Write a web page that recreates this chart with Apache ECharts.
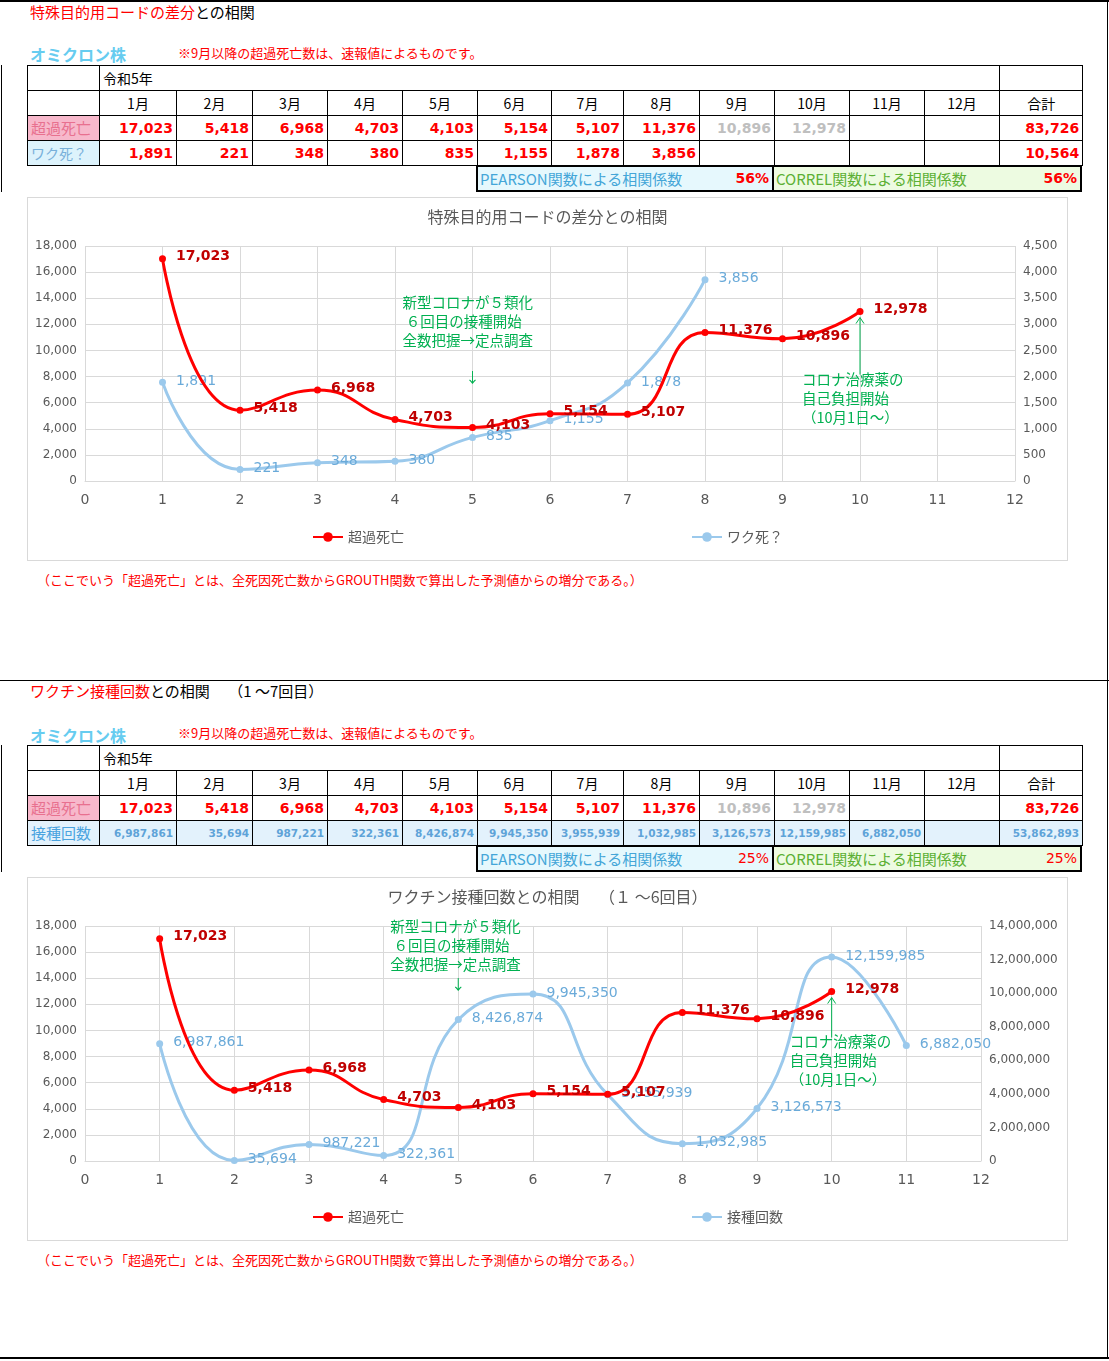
<!DOCTYPE html>
<html lang="ja">
<head>
<meta charset="utf-8">
<title>超過死亡との相関</title>
<script src="https://cdn.jsdelivr.net/npm/echarts@6.0.0/dist/echarts.min.js"></script>
<style>
  body { margin:0; width:1109px; height:1361px; position:relative; overflow:hidden; background:#fff;
         font-family:"Noto Sans CJK JP", sans-serif; color:#000; }
  .ln { position:absolute; background:#000; }
  .txt { position:absolute; white-space:nowrap; }
  .sec { font-size:15px; line-height:20px; }
  .red { color:#ff0000; }
  .omi { font-size:16px; line-height:20px; font-weight:bold; color:#66ccf0; }
  .note { font-size:13px; line-height:18px; color:#ff0000; }
  .foot { font-size:13px; line-height:16px; color:#ff0000; }
  table.t { position:absolute; left:27px; width:1055px; border-collapse:collapse; table-layout:fixed; font-size:14px; }
  table.t td { border:1px solid #000; height:24px; padding:0 3px; white-space:nowrap; overflow:hidden; line-height:24px; }
  td.c { text-align:center; }
  td.n { text-align:right; font-family:"DejaVu Sans",sans-serif; font-weight:bold; font-size:14px; color:#ff0000; padding-right:2px; }
  td.n.gray { color:#bfbfbf; }
  td.lab1 { background:#f7b8cb; color:#e8708f; font-size:15px; padding-left:2px; }
  td.lab2 { background:#ddf3fc; color:#78b0da; font-size:14px; padding-left:2px; }
  td.lab3 { background:#ddf0fb; color:#4aa3df; font-size:15px; padding-left:2px; }
  tr.dose td { background:#e3f2fc; }
  td.d { text-align:right; font-family:"DejaVu Sans",sans-serif; font-weight:bold; font-size:10.5px; color:#5ea3d8; padding-right:2px; }
  .box { position:absolute; height:27px; box-sizing:border-box; border:2px solid #000; font-size:15px; line-height:23px; }
  .box .l { position:absolute; left:2px; }
  .box .r { position:absolute; right:3px; color:#ff0000; font-family:"DejaVu Sans",sans-serif; font-size:14px; }
  .pear { background:#e6f8fd; }
  .pear .l { color:#44a6d8; }
  .corr { background:#edfbe1; }
  .corr .l { color:#5cb034; }
  .chart { position:absolute; left:27px; width:1041px; height:364px; box-sizing:border-box; border:1px solid #d9d9d9; }
</style>
</head>
<body>
<!-- 枠線 -->
<div class="ln" style="left:0;top:0;width:1109px;height:2px"></div>
<div class="ln" style="left:1107px;top:0;width:1px;height:1358px"></div>
<div class="ln" style="left:0;top:680px;width:1109px;height:1px"></div>
<div class="ln" style="left:0;top:1357px;width:1109px;height:2px"></div>
<div class="ln" style="left:1px;top:65px;width:1px;height:127px"></div>
<div class="ln" style="left:1px;top:745px;width:1px;height:127px"></div>

<!-- 上段 -->
<div class="txt sec" style="left:30px;top:2px"><span class="red">特殊目的用コードの差分</span>との相関</div>
<div class="txt omi" style="left:30px;top:44px">オミクロン株</div>
<div class="txt note" style="left:178px;top:44px">※9月以降の超過死亡数は、速報値によるものです。</div>
<div id="tbl1"></div>
<div class="box pear" style="left:476px;top:165px;width:298px"><span class="l">PEARSON関数による相関係数</span><span class="r" id="p1"></span></div>
<div class="box corr" style="left:772px;top:165px;width:310px"><span class="l">CORREL関数による相関係数</span><span class="r" id="r1"></span></div>
<div class="chart" id="c1" style="top:197px"></div>
<div class="txt foot" style="left:37px;top:572px">（ここでいう「超過死亡」とは、全死因死亡数からGROUTH関数で算出した予測値からの増分である。）</div>

<!-- 下段 -->
<div class="txt sec" style="left:30px;top:681px"><span class="red">ワクチン接種回数</span>との相関　 （1 ～7回目）</div>
<div class="txt omi" style="left:30px;top:725px">オミクロン株</div>
<div class="txt note" style="left:178px;top:724px">※9月以降の超過死亡数は、速報値によるものです。</div>
<div id="tbl2"></div>
<div class="box pear" style="left:476px;top:845px;width:298px"><span class="l">PEARSON関数による相関係数</span><span class="r" id="p2"></span></div>
<div class="box corr" style="left:772px;top:845px;width:310px"><span class="l">CORREL関数による相関係数</span><span class="r" id="r2"></span></div>
<div class="chart" id="c2" style="top:877px"></div>
<div class="txt foot" style="left:37px;top:1252px">（ここでいう「超過死亡」とは、全死因死亡数からGROUTH関数で算出した予測値からの増分である。）</div>

<script>
// データ
var monthLabels = ['1月','2月','3月','4月','5月','6月','7月','8月','9月','10月','11月','12月'];
var monthNums = [1,2,3,4,5,6,7,8,9,10,11,12];
var excessDeaths = [17023,5418,6968,4703,4103,5154,5107,11376,10896,12978];
var provisionalFrom = 8; // 9月以降は速報値
var vaxDeaths = [1891,221,348,380,835,1155,1878,3856];
var vaxDoses = [6987861,35694,987221,322361,8426874,9945350,3955939,1032985,3126573,12159985,6882050];
var corr1 = '56%';
var corr2 = '25%';
var colWidths = [72,77,76,75,75,75,74,72,76,75,75,75,75,83];

var fmt = function (v) { return v.toLocaleString('en-US'); };
function sum(a) { return a.reduce(function (s, v) { return s + v; }, 0); }

// 表
function buildTable(top, secondRow) {
  var h = '<table class="t" style="top:' + top + 'px"><colgroup>';
  colWidths.forEach(function (w) { h += '<col style="width:' + w + 'px">'; });
  h += '</colgroup>';
  h += '<tr><td></td><td colspan="12">令和5年</td><td></td></tr>';
  h += '<tr><td></td>';
  monthLabels.forEach(function (m) { h += '<td class="c">' + m + '</td>'; });
  h += '<td class="c">合計</td></tr>';
  h += '<tr><td class="lab1">超過死亡</td>';
  for (var i = 0; i < 12; i++) {
    var v = excessDeaths[i];
    h += '<td class="n' + (i >= provisionalFrom ? ' gray' : '') + '">' + (v == null ? '' : fmt(v)) + '</td>';
  }
  h += '<td class="n">' + fmt(sum(excessDeaths)) + '</td></tr>';
  h += secondRow + '</table>';
  return h;
}

var row2a = '<tr><td class="lab2">ワク死？</td>';
for (var i = 0; i < 12; i++) row2a += '<td class="n">' + (vaxDeaths[i] == null ? '' : fmt(vaxDeaths[i])) + '</td>';
row2a += '<td class="n">' + fmt(sum(vaxDeaths)) + '</td></tr>';

var row2b = '<tr class="dose"><td class="lab3">接種回数</td>';
for (var i = 0; i < 12; i++) row2b += '<td class="d">' + (vaxDoses[i] == null ? '' : fmt(vaxDoses[i])) + '</td>';
row2b += '<td class="d">' + fmt(sum(vaxDoses)) + '</td></tr>';

document.getElementById('tbl1').innerHTML = buildTable(65, row2a);
document.getElementById('tbl2').innerHTML = buildTable(745, row2b);
document.getElementById('p1').textContent = corr1;
document.getElementById('r1').textContent = corr1;
document.getElementById('p2').textContent = corr2;
document.getElementById('r2').textContent = corr2;
document.getElementById('p2').style.fontWeight = 'normal';
document.getElementById('r2').style.fontWeight = 'normal';
document.getElementById('p1').style.fontWeight = 'bold';
document.getElementById('r1').style.fontWeight = 'bold';

// グラフ
var JP = '"Noto Sans CJK JP", sans-serif';
var NUM = '"DejaVu Sans", sans-serif';
var GREEN = '#00b050';

function pairs(vals) {
  return vals.map(function (v, i) { return [monthNums[i], v]; });
}

function makeChart(id, cfg) {
  var chart = echarts.init(document.getElementById(id));
  chart.setOption({
    animation: false,
    title: {
      text: cfg.title, left: 'center', top: 6,
      textStyle: { fontSize: 16, fontWeight: 'normal', color: '#595959', fontFamily: JP }
    },
    legend: {
      data: ['超過死亡', cfg.blueName], top: 327, left: 'center',
      itemGap: 287, itemWidth: 30, itemHeight: 12,
      textStyle: { fontSize: 14, color: '#595959', fontFamily: JP }
    },
    grid: { left: 57, right: cfg.gridRight, top: 48, bottom: 79, outerBoundsMode: 'none' },
    xAxis: {
      type: 'value', min: 0, max: 12, interval: 1,
      axisLine: { lineStyle: { color: '#d9d9d9' } },
      axisTick: { show: false },
      axisLabel: { color: '#595959', fontSize: 14, margin: 12, fontFamily: NUM },
      splitLine: { lineStyle: { color: '#d9d9d9' } }
    },
    yAxis: [{
      type: 'value', min: 0, max: 18000, interval: 2000,
      axisLine: { show: false }, axisTick: { show: false },
      axisLabel: { color: '#595959', fontSize: 12, margin: 8, fontFamily: NUM, formatter: fmt },
      splitLine: { lineStyle: { color: '#d9d9d9' } }
    }, {
      type: 'value', position: 'right', min: 0, max: cfg.rightMax, interval: cfg.rightInterval,
      axisLine: { show: false }, axisTick: { show: false },
      axisLabel: { color: '#595959', fontSize: 12, margin: 8, fontFamily: NUM, formatter: fmt },
      splitLine: { show: false }
    }],
    series: [{
      name: cfg.blueName, type: 'line', yAxisIndex: 1, smooth: 0.5,
      data: pairs(cfg.blueData),
      symbol: 'circle', symbolSize: 7,
      lineStyle: { width: 3, color: '#9bc9ec' },
      itemStyle: { color: '#9bc9ec' },
      label: {
        show: true, position: 'right', distance: 10, offset: [0, -1],
        color: '#6aaad9', fontSize: 14, fontFamily: NUM,
        formatter: function (p) { return fmt(p.value[1]); }
      },
      z: 2
    }, {
      name: '超過死亡', type: 'line', yAxisIndex: 0, smooth: 0.5,
      data: pairs(excessDeaths),
      symbol: 'circle', symbolSize: 7,
      lineStyle: { width: 3, color: '#ff0000' },
      itemStyle: { color: '#ff0000' },
      label: {
        show: true, position: 'right', distance: 10, offset: [0, -2],
        color: '#c00000', fontSize: 14, fontWeight: 'bold', fontFamily: NUM,
        formatter: function (p) { return fmt(p.value[1]); }
      },
      z: 3
    }]
  });

  // 注記
  var a = chart.convertToPixel({ xAxisIndex: 0, yAxisIndex: 0 }, [5, cfg.note1Value]);
  var p = chart.convertToPixel({ xAxisIndex: 0, yAxisIndex: 0 }, [10, excessDeaths[9]]);
  var ax = p[0], top = p[1] + 6, bottom = p[1] + cfg.arrowLen;
  chart.setOption({
    graphic: [{
      type: 'text', x: a[0] - cfg.note1Dx, y: a[1] - cfg.note1Dy, z: 10,
      style: { text: '新型コロナが５類化\n ６回目の接種開始\n全数把握→定点調査', fill: GREEN,
               font: '14.5px ' + JP, lineHeight: 19, verticalAlign: 'top', align: 'left' }
    }, {
      type: 'text', x: a[0], y: a[1], z: 10,
      style: { text: '↓', fill: GREEN, font: '14px ' + JP, align: 'center', verticalAlign: 'middle' }
    }, {
      type: 'line', z: 10,
      shape: { x1: ax, y1: top, x2: ax, y2: bottom },
      style: { stroke: GREEN, lineWidth: 1 }
    }, {
      type: 'polyline', z: 10,
      shape: { points: [[ax - 4, top + 6], [ax, top], [ax + 4, top + 6]] },
      style: { stroke: GREEN, lineWidth: 1, fill: null }
    }, {
      type: 'text', x: ax - cfg.note2Dx, y: p[1] + cfg.note2Dy, z: 10,
      style: { text: 'コロナ治療薬の\n自己負担開始\n（10月1日～）', fill: GREEN,
               font: '14.5px ' + JP, lineHeight: 19, verticalAlign: 'top', align: 'left' }
    }]
  });
  return chart;
}

makeChart('c1', {
  title: '特殊目的用コードの差分との相関', blueName: 'ワク死？', blueData: vaxDeaths,
  gridRight: 52, rightMax: 4500, rightInterval: 500,
  note1Value: 8000, note1Dx: 70, note1Dy: 84,
  arrowLen: 63, note2Dx: 58, note2Dy: 58
});
makeChart('c2', {
  title: 'ワクチン接種回数との相関　 （１ ～6回目）', blueName: '接種回数', blueData: vaxDoses,
  gridRight: 86, rightMax: 14000000, rightInterval: 2000000,
  note1Value: 13600, note1Dx: 68, note1Dy: 66,
  arrowLen: 46, note2Dx: 42, note2Dy: 40
});
</script>
</body>
</html>
